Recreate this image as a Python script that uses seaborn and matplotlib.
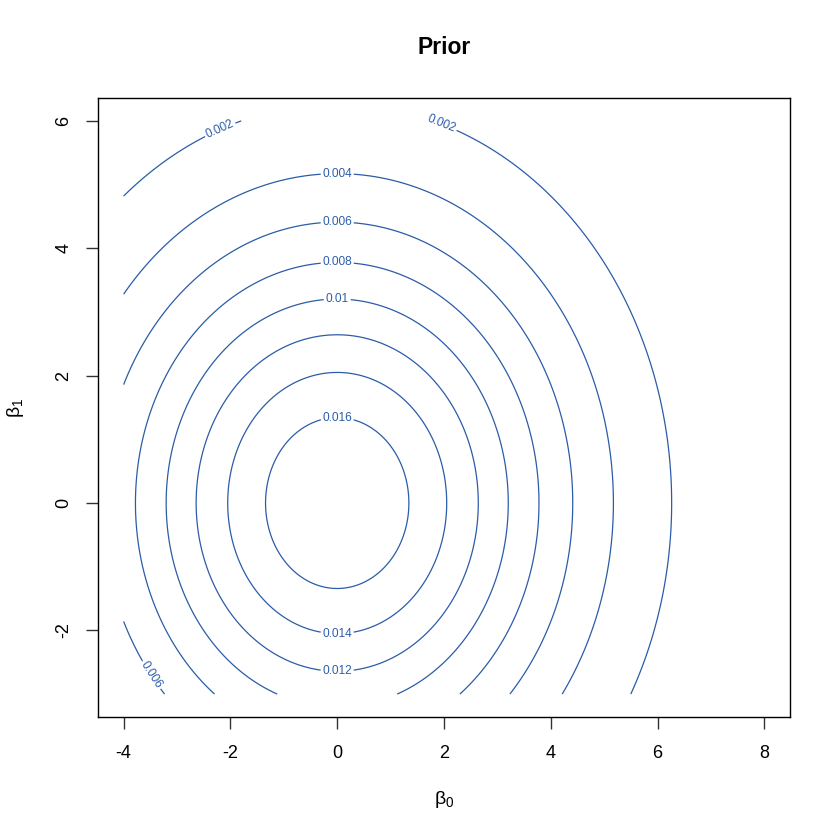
import numpy as np
import pandas as pd
import matplotlib
matplotlib.use("Agg")
import matplotlib.pyplot as plt
import seaborn as sns

# ---- data ----
prior_mean = [0.0, 0.0]
prior_sd = [3.0, 3.0]
beta0_range = [-4.0, 8.0]
beta1_range = [-3.0, 6.0]
levels = [0.002, 0.004, 0.006, 0.008, 0.010, 0.012, 0.014, 0.016]
level_labels = ["0.002", "0.004", "0.006", "0.008", "0.01", "0.012", "0.014", "0.016"]
x_ticks = [-4, -2, 0, 2, 4, 6, 8]
y_ticks = [-2, 0, 2, 4, 6]
title = "Prior"

# label anchor points (beta0, beta1) where R put the contour labels
label_points = [(-2.18, 5.84), (1.92, 5.89), (0.0, 5.14), (0.0, 4.39),
                (0.0, 3.75), (0.0, 3.2), (0.0, 1.3), (0.0, -2.0),
                (0.0, -2.58), (-3.53, -2.73)]

sns.set_style("ticks")
plt.rcParams['font.family'] = ['Liberation Sans', 'DejaVu Sans']
plt.rcParams['text.color'] = 'black'
plt.rcParams['mathtext.fontset'] = 'custom'
plt.rcParams['mathtext.rm'] = 'Liberation Sans'
plt.rcParams['mathtext.it'] = 'Liberation Sans'

b0 = np.linspace(beta0_range[0], beta0_range[1], 301)
b1 = np.linspace(beta1_range[0], beta1_range[1], 301)
B0, B1 = np.meshgrid(b0, b1)
dens = (1.0 / (2 * np.pi * prior_sd[0] * prior_sd[1])) * np.exp(
    -0.5 * (((B0 - prior_mean[0]) / prior_sd[0]) ** 2 + ((B1 - prior_mean[1]) / prior_sd[1]) ** 2))

fig = plt.figure(figsize=(8.4, 8.4), dpi=100)
ax = fig.add_axes([98 / 840, 1 - 717 / 840, (790 - 98) / 840, (717 - 98) / 840])

line_color = "#2B5CA8"
cs = ax.contour(B0, B1, dens, levels=levels, colors=line_color, linewidths=0.9)
fmt = dict(zip(cs.levels, level_labels))
ax.clabel(cs, levels=cs.levels, fmt=fmt, fontsize=8.6, inline=True, inline_spacing=3,
          manual=label_points, colors=line_color)

pad0 = 0.04 * (beta0_range[1] - beta0_range[0])
pad1 = 0.04 * (beta1_range[1] - beta1_range[0])
ax.set_xlim(beta0_range[0] - pad0, beta0_range[1] + pad0)
ax.set_ylim(beta1_range[0] - pad1, beta1_range[1] + pad1)
ax.set_xticks(x_ticks)
ax.set_yticks(y_ticks)
ax.set_xticklabels([str(t) for t in x_ticks])
ax.set_yticklabels([str(t) for t in y_ticks], rotation=90, va="center")
ax.tick_params(axis="both", direction="out", length=8.5, width=1.0, color="#333333",
               labelsize=13, labelcolor="black")
ax.tick_params(axis="x", pad=12)
ax.tick_params(axis="y", pad=10)
for s in ax.spines.values():
    s.set_visible(True)
    s.set_color("black")
    s.set_linewidth(1.0)

fig.text((98 + 790) / 2 / 840, 1 - 48 / 840, title, ha="center", va="center",
         fontsize=16.5, fontweight="bold", color="black")
fig.text(444 / 840, 1 - 800 / 840, r"$\beta_0$", ha="center", va="center", fontsize=14,
         color="black")
fig.text(16 / 840, 1 - 408 / 840, r"$\beta_1$", ha="center", va="center", fontsize=14,
         rotation=90, color="black")

fig.savefig("out.png", dpi=100)
